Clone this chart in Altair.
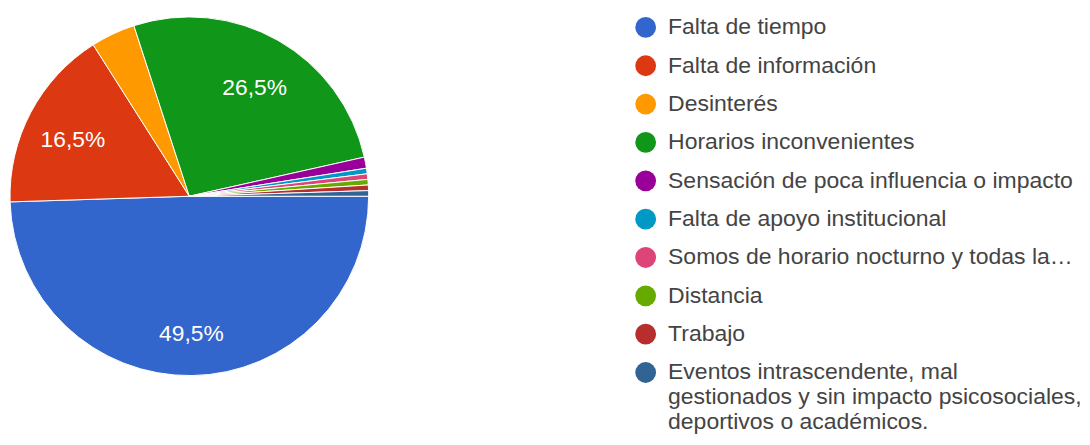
import math
import altair as alt
import pandas as pd

categories = [
    "Falta de tiempo",
    "Falta de información",
    "Desinterés",
    "Horarios inconvenientes",
    "Sensación de poca influencia o impacto",
    "Falta de apoyo institucional",
    "Somos de horario nocturno y todas la…",
    "Distancia",
    "Trabajo",
    "Eventos intrascendente, mal gestionados y sin impacto psicosociales, deportivos o académicos.",
]
counts = [99, 33, 8, 53, 2, 1, 1, 1, 1, 1]
colors = ["#3366cc", "#dc3912", "#ff9900", "#109618", "#990099",
          "#0099c6", "#dd4477", "#66aa00", "#b82e2e", "#316395"]

df = pd.DataFrame({"cat": categories, "n": counts, "idx": list(range(len(categories)))})

last = categories[-1]
label_expr = (
    "datum.label == '" + last + "' ? "
    "['Eventos intrascendente, mal', 'gestionados y sin impacto psicosociales,', 'deportivos o académicos.'] "
    ": datum.label"
)

cx, cy, R = 182, 188, 181

base = alt.Chart(df).transform_joinaggregate(
    total="sum(n)"
).transform_calculate(
    lab="datum.n / datum.total >= 0.05 ? replace(format(datum.n / datum.total, '.1%'), '.', ',') : ''",
).encode(
    theta=alt.Theta("n:Q", stack=True,
                    scale=alt.Scale(range=[math.pi / 2, math.pi / 2 + 2 * math.pi])),
    order=alt.Order("idx:Q"),
)

pie = base.mark_arc(radius=R, stroke="white", strokeWidth=1).encode(
    x=alt.value(cx),
    y=alt.value(cy),
    color=alt.Color(
        "cat:N",
        scale=alt.Scale(domain=categories, range=colors),
        sort=categories,
        legend=alt.Legend(
            title=None,
            orient="none",
            legendX=631,
            legendY=6,
            symbolType="circle",
            symbolSize=441,
            symbolStrokeWidth=0,
            labelFontSize=23.2,
            labelFont="Liberation Sans",
            labelColor="#444444",
            labelLimit=600,
            labelOffset=11,
            rowPadding=14.7,
            padding=0,
            labelExpr=label_expr,
        ),
    ),
)

text = base.mark_text(radius=133, dy=6, fontSize=23, font="Liberation Sans", color="white").encode(
    x=alt.value(cx),
    y=alt.value(cy),
    text="lab:N",
)

chart = alt.layer(pie, text).properties(
    width=1074, height=429, padding=0
).configure_view(stroke=None)

chart.save("out.html", embed_options={"renderer": "svg", "actions": False})
